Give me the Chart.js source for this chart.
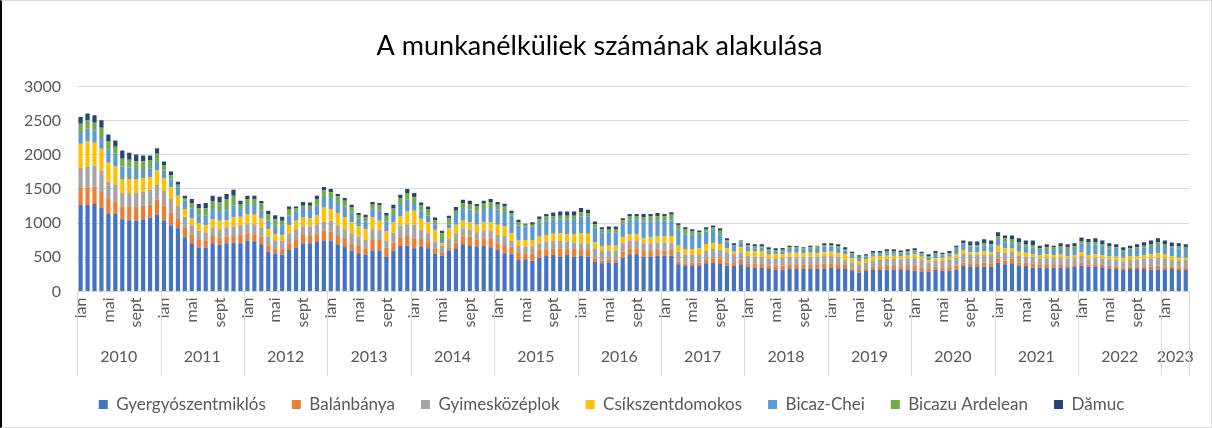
<!DOCTYPE html>
<html>
<head>
<meta charset="utf-8">
<script src="https://cdn.jsdelivr.net/npm/chart.js@4.4.0/dist/chart.umd.min.js"></script>
<style>
  html, body { margin: 0; padding: 0; background: #fff; overflow: hidden; }
  #wrap { position: relative; width: 1212px; height: 428px; box-sizing: border-box; border: 1px solid #d9d9d9; border-left: 2px solid #000; overflow: hidden; }
  canvas { display: block; }
</style>
</head>
<body>
<div id="wrap"><canvas id="c" width="1209" height="426" style="width:1209px;height:426px"></canvas></div>
<script>
// ---- data ----
const monthNames = ['ian','feb','mar','apr','mai','iun','iul','aug','sept','oct','nov','dec'];
const shownMonths = ['ian','mai','sept'];
const years = ['2010','2011','2012','2013','2014','2015','2016','2017','2018','2019','2020','2021','2022','2023'];
const monthsPerYear = [12,12,12,12,12,12,12,12,12,12,12,12,12,4];
const seriesNames = ['Gyergyószentmiklós','Balánbánya','Gyimesközéplok','Csíkszentdomokos','Bicaz-Chei','Bicazu Ardelean','Dămuc'];
const seriesColors = ['#4472C4','#ED7D31','#A5A5A5','#FFC000','#5B9BD5','#70AD47','#264478'];

const gyergyoszentmiklos = [
 1264,1269,1279,1220,1132,1132,1058,1044,1039,1058,1083,1122,
 1044,970,926,794,706,642,642,706,686,706,715,706,
 740,735,691,583,554,539,608,642,706,706,730,745,
 745,691,657,598,559,534,598,598,510,598,666,671,
 632,657,632,549,524,598,632,691,666,657,671,647,
 608,559,544,461,470,451,495,519,534,510,534,510,
 524,510,436,412,426,426,495,544,544,510,510,524,
 524,524,397,377,377,377,412,426,402,377,377,397,
 363,348,348,328,314,318,328,328,328,328,328,338,
 348,328,328,299,279,299,323,314,323,323,314,323,
 304,289,284,318,304,304,318,377,363,363,363,363,
 421,397,412,377,377,348,348,348,348,348,348,363,
 377,363,363,353,338,328,314,328,328,328,323,323,
 323,328,314,314];
const balanbanya = [
 250,255,255,235,220,186,182,196,201,196,186,221,
 210,177,147,142,132,122,108,107,103,98,98,132,
 113,103,113,93,78,78,98,122,122,107,108,142,
 132,122,112,108,107,98,157,166,132,122,128,142,
 147,112,98,83,49,49,83,113,138,107,108,122,
 98,122,113,112,79,108,113,98,88,122,74,112,
 84,98,49,39,35,35,88,88,88,83,83,84,
 74,84,39,35,44,44,49,59,83,49,44,64,
 49,64,64,49,58,58,69,59,69,59,59,74,
 64,69,59,39,35,39,40,49,49,49,49,49,
 68,59,44,45,49,49,59,49,49,49,58,49,
 64,54,73,49,49,64,49,49,39,49,29,34,
 49,34,34,44,39,35,34,35,35,35,40,54,
 40,35,34,39];
const gyimeskozeplok = [
 294,304,308,314,255,240,201,201,201,206,216,215,
 221,205,181,157,132,123,112,123,122,132,138,132,
 132,147,132,128,118,123,142,147,123,138,147,137,
 157,147,142,147,138,123,156,138,103,142,171,172,
 196,133,123,98,93,122,138,122,98,103,113,118,
 122,132,83,93,108,98,98,113,118,108,122,93,
 98,98,147,142,137,137,123,113,113,113,113,107,
 117,98,147,132,113,113,132,137,123,147,128,112,
 107,98,98,108,113,113,113,113,103,123,123,107,
 107,113,74,88,83,88,83,98,103,103,107,113,
 113,113,98,88,93,108,118,123,122,122,113,122,
 98,117,98,93,84,98,88,88,108,98,108,98,
 93,88,98,88,93,98,88,98,107,112,122,118,
 122,98,98,108];
const csikszentdomokos = [
 353,367,334,318,275,270,205,205,205,201,186,211,
 181,172,147,112,98,113,108,122,123,108,132,123,
 147,147,132,107,88,83,122,123,137,122,127,211,
 171,187,177,161,147,156,172,132,132,147,133,186,
 206,161,156,172,40,157,122,108,112,108,117,122,
 147,138,113,89,98,98,98,98,103,113,108,123,
 147,137,83,73,73,73,88,93,93,73,88,89,
 89,107,88,78,88,98,103,84,88,59,34,74,
 74,83,83,64,59,59,58,68,59,58,49,54,
 64,49,88,59,49,49,64,58,49,49,49,49,
 59,49,35,34,49,49,49,59,39,39,59,39,
 88,64,49,64,58,39,49,59,39,54,34,39,
 54,49,49,49,49,49,59,58,49,59,59,64,
 64,58,49,34];
const bicazChei = [
 171,186,181,172,191,186,182,167,147,132,132,132,
 113,113,123,123,147,117,137,147,132,137,171,112,
 132,132,113,123,122,137,137,132,132,132,147,166,
 162,147,157,147,112,113,113,147,147,123,181,172,
 98,118,98,83,49,59,157,186,182,181,196,211,
 221,196,254,205,196,196,196,206,206,205,220,220,
 245,255,221,201,196,196,196,211,211,245,230,230,
 230,226,231,216,216,196,181,196,142,98,88,68,
 64,39,49,49,39,39,54,54,49,54,63,84,
 74,88,49,49,39,35,34,25,35,35,30,39,
 29,34,34,49,29,34,78,73,84,84,78,84,
 84,88,74,108,89,93,74,64,74,73,89,88,
 133,147,147,137,113,112,88,89,103,108,122,122,
 117,123,137,113];
const bicazuArdelean = [
 123,123,113,137,122,103,112,113,108,113,113,113,
 83,58,39,39,79,98,108,113,137,171,147,74,
 88,88,108,98,98,74,98,49,34,49,93,79,
 83,98,83,74,49,59,73,78,83,88,88,98,
 98,78,98,54,98,88,49,74,83,89,89,88,
 73,98,40,49,24,24,58,64,49,49,49,49,
 63,49,49,44,49,49,49,49,49,59,74,64,
 64,83,63,73,39,39,39,34,49,25,10,15,
 24,34,24,24,25,25,25,25,24,25,35,24,
 24,19,24,25,25,14,24,24,34,34,24,20,
 25,15,24,25,20,15,20,25,24,24,35,34,
 49,59,63,29,39,39,24,39,34,35,39,35,
 34,34,29,25,25,25,25,24,25,29,30,34,
 30,24,25,34];
const damuc = [
 98,98,107,108,103,93,123,103,103,83,73,83,
 49,59,44,34,58,64,79,83,84,74,89,49,
 49,49,34,49,59,59,40,30,54,49,49,49,
 49,34,39,34,35,39,39,35,40,49,49,58,
 64,44,40,44,34,34,54,49,49,34,34,44,
 39,39,34,40,15,39,40,34,58,64,64,64,
 59,49,39,30,35,35,34,34,34,49,34,49,
 34,39,35,30,34,25,25,29,39,24,25,15,
 25,25,25,25,24,24,24,19,15,24,14,25,
 25,25,25,24,19,20,25,25,24,24,25,24,
 34,24,25,34,24,34,29,39,49,49,58,54,
 63,39,49,59,49,64,39,44,29,49,44,49,
 49,54,59,49,49,44,39,39,44,49,49,64,
 49,49,49,49];
const yTicks = [0,500,1000,1500,2000,2500,3000];

// ---- build categories ----
const labels = [];
const yearStartIdx = [];
years.forEach((y, yi) => {
  yearStartIdx.push(labels.length);
  for (let m = 0; m < monthsPerYear[yi]; m++) labels.push(monthNames[m]);
});
const yearBoundaries = yearStartIdx.concat([labels.length]).map(v => v - 0.5);
const yearCenters = years.map((y, yi) => yearStartIdx[yi] + monthsPerYear[yi] / 2 - 0.5);

const seriesData = [gyergyoszentmiklos, balanbanya, gyimeskozeplok, csikszentdomokos, bicazChei, bicazuArdelean, damuc];
const datasets = seriesNames.map((n, i) => ({
  label: n,
  data: seriesData[i],
  backgroundColor: seriesColors[i],
  borderWidth: 0,
  barPercentage: 1.0,
  categoryPercentage: 0.6
}));

const FONT = 'Lato, "Open Sans", sans-serif';
const TXT = '#595959';
const GRID = '#d9d9d9';

// year separator lines spanning the two-level category axis
const yearSeparators = {
  id: 'yearSeparators',
  afterLayout(chart) {
    // centre the legend under the plot like the original
    const lg = chart.legend;
    if (lg) { lg.left += 12; lg.right += 12; }
  },
  afterDraw(chart) {
    const s2 = chart.scales.x2, sx = chart.scales.x;
    const ctx = chart.ctx;
    ctx.save();
    ctx.strokeStyle = GRID;
    ctx.lineWidth = 1;
    ctx.beginPath();
    yearBoundaries.forEach(b => {
      const px = Math.round(s2.getPixelForValue(b)) + 0.5;
      ctx.moveTo(px, sx.top);
      ctx.lineTo(px, s2.bottom + 6);
    });
    ctx.stroke();
    ctx.restore();
  }
};

new Chart(document.getElementById('c'), {
  type: 'bar',
  data: { labels, datasets },
  plugins: [yearSeparators],
  options: {
    responsive: false,
    animation: false,
    maintainAspectRatio: false,
    layout: { padding: { left: 6, right: 20, top: 0, bottom: 4 } },
    plugins: {
      tooltip: { enabled: false },
      title: {
        display: true,
        text: 'A munkanélküliek számának alakulása',
        color: '#000',
        font: { family: FONT, size: 27, weight: 'normal', lineHeight: 1.2 },
        padding: { top: 29, bottom: 24 }
      },
      legend: {
        position: 'bottom',
        labels: {
          color: TXT,
          font: { family: FONT, size: 17 },
          boxWidth: 9, boxHeight: 9,
          padding: 26
        }
      }
    },
    scales: {
      x: {
        stacked: true,
        offset: true,
        grid: { display: false, drawTicks: false },
        border: { display: true, color: GRID },
        afterFit: (scale) => { scale.height = 40; },
        ticks: {
          autoSkip: false,
          maxRotation: 90,
          minRotation: 90,
          padding: 6,
          color: TXT,
          font: { family: FONT, size: 16 },
          callback: function(v, i) { const l = labels[i]; return shownMonths.includes(l) ? l : ''; }
        }
      },
      x2: {
        type: 'linear',
        position: 'bottom',
        offset: false,
        min: -0.5,
        max: labels.length - 0.5,
        grid: { display: false, drawTicks: false },
        border: { display: false },
        afterBuildTicks: (scale) => { scale.ticks = yearCenters.map(v => ({ value: v })); },
        afterFit: (scale) => { scale.height = 38.5; },
        ticks: {
          autoSkip: false,
          maxRotation: 0,
          minRotation: 0,
          padding: 16,
          color: TXT,
          font: { family: FONT, size: 16 },
          callback: function(v) { const k = yearCenters.indexOf(v); return k >= 0 ? years[k] : ''; }
        }
      },
      y: {
        stacked: true,
        min: 0, max: 3000,
        afterBuildTicks: (scale) => { scale.ticks = yTicks.map(v => ({ value: v })); },
        grid: { color: GRID, drawTicks: false },
        border: { display: false },
        ticks: {
          padding: 16,
          color: TXT,
          font: { family: FONT, size: 16 },
          callback: (v) => String(v)
        }
      }
    }
  }
});
</script>
</body>
</html>
